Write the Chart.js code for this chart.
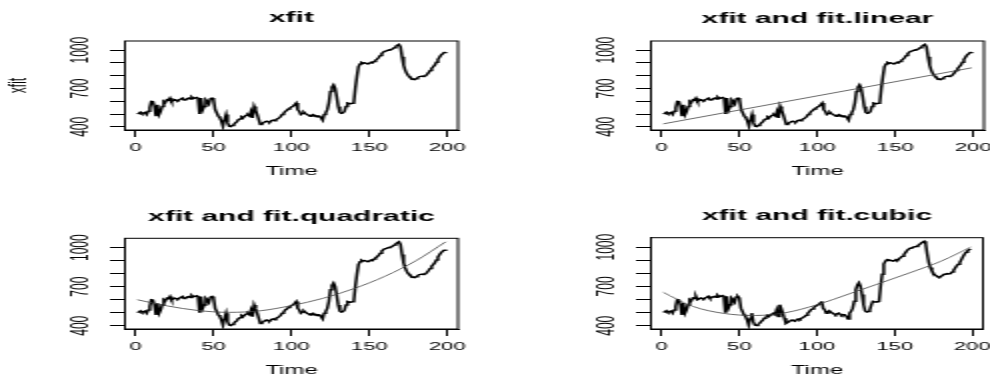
<!DOCTYPE html>
<html>
<head>
<meta charset="utf-8">
<script src="https://cdn.jsdelivr.net/npm/chart.js@4.4.1/dist/chart.umd.min.js"></script>
<style>
  html, body { margin: 0; padding: 0; background: #fff; overflow: hidden; }
  /* the source plot is a ~495px R figure stretched 2x horizontally */
  #page { position: absolute; left: 0; top: 0; width: 495px; height: 376px; transform: scaleX(2); transform-origin: 0 0; }
  #page canvas { position: absolute; }
</style>
</head>
<body>
<div id="page">
  <canvas id="p1" width="250" height="188" style="left:0px;top:0px"></canvas>
  <canvas id="p2" width="250" height="188" style="left:262.5px;top:0px"></canvas>
  <canvas id="p3" width="250" height="196" style="left:0px;top:188px"></canvas>
  <canvas id="p4" width="250" height="196" style="left:262.7px;top:188px"></canvas>
</div>
<script>
// series, t = 1..199
const xfit = [
  501, 505, 514, 503, 508, 512, 496, 521, 548, 599,
  597, 560, 483, 573, 496, 521, 560, 599, 590, 612,
  608, 625, 599, 605, 612, 608, 604, 612, 618, 625,
  610, 612, 620, 625, 618, 633, 622, 625, 630, 625,
  500, 625, 534, 560, 612, 600, 580, 620, 625, 612,
  534, 510, 483, 470, 444, 405, 457, 496, 431, 405,
  402, 410, 418, 431, 440, 457, 462, 478, 470, 483,
  490, 496, 486, 521, 470, 560, 530, 496, 457, 418,
  425, 431, 440, 444, 438, 436, 448, 452, 447, 457,
  462, 470, 480, 496, 505, 521, 528, 540, 548, 555,
  562, 573, 586, 534, 521, 496, 505, 514, 503, 496,
  490, 483, 492, 496, 486, 478, 485, 483, 470, 452,
  496, 510, 534, 586, 676, 710, 728, 703, 638, 560,
  514, 505, 508, 521, 560, 586, 583, 581, 584, 586,
  703, 793, 870, 891, 904, 898, 901, 897, 893, 896,
  905, 901, 912, 922, 930, 943, 958, 974, 985, 992,
  995, 1000, 1003, 1005, 1012, 1020, 1030, 1038, 1045, 1025,
  948, 883, 844, 819, 800, 788, 780, 772, 770, 777,
  785, 793, 795, 798, 796, 798, 810, 824, 840, 857,
  870, 883, 905, 927, 945, 961, 972, 981, 986
];
const time = xfit.map((_, i) => i + 1);

// fitted trends
const linearTime = [1, 199];
const fitLinear = [423, 862];
const curveTime = [1, 20, 40, 60, 80, 100, 120, 140, 160, 180, 199];
const fitQuadratic = [600, 553, 517, 503, 515, 555, 610, 685, 780, 900, 1045];
const fitCubic = [655, 548, 494, 478, 500, 560, 640, 722, 805, 893, 1000];

const xTicks = [0, 50, 100, 150, 200];
const yTicks = [400, 500, 600, 700, 800, 900, 1000];
const yLabels = [400, 700, 1000];

const FONT = "'Liberation Sans', Arial, Helvetica, sans-serif";
const Y_WIDTH = 60, X_HEIGHT = 49.2, TITLE_LH = 18;

const panels = [
  { id: 'p1', title: 'xfit', ylab: 'xfit', fitX: null, fitY: null,
    w: 250, h: 188, box: { l: 62.5, t: 41, r: 229, b: 130 }, titleY: 18 },
  { id: 'p2', title: 'xfit and fit.linear', ylab: '', fitX: linearTime, fitY: fitLinear,
    w: 250, h: 188, box: { l: 62.5, t: 41, r: 229, b: 130 }, titleY: 19 },
  { id: 'p3', title: 'xfit and fit.quadratic', ylab: '', fitX: curveTime, fitY: fitQuadratic,
    w: 250, h: 196, box: { l: 62.5, t: 50.3, r: 229, b: 141 }, titleY: 28.5 },
  { id: 'p4', title: 'xfit and fit.cubic', ylab: '', fitX: curveTime, fitY: fitCubic,
    w: 250, h: 196, box: { l: 62.5, t: 49.7, r: 228.5, b: 141 }, titleY: 27.7 }
];

// R-style full frame round the plot region
const boxPlugin = {
  id: 'box',
  afterDraw(chart) {
    const { ctx, chartArea: a } = chart;
    ctx.save();
    ctx.strokeStyle = '#000';
    ctx.lineWidth = 1;
    ctx.strokeRect(a.left, a.top, a.right - a.left, a.bottom - a.top);
    ctx.restore();
  }
};

// y tick labels turned 90deg like R's default las=0
const yLabelPlugin = {
  id: 'yLabels',
  afterDraw(chart) {
    const { ctx, chartArea: a } = chart;
    const s = chart.scales.y;
    ctx.save();
    ctx.fillStyle = '#000';
    ctx.font = '12px ' + FONT;
    ctx.textAlign = 'center';
    ctx.textBaseline = 'middle';
    yLabels.forEach(v => {
      ctx.save();
      ctx.translate(a.left - 21.5, s.getPixelForValue(v));
      ctx.rotate(-Math.PI / 2);
      ctx.fillText(String(v), 0, 0);
      ctx.restore();
    });
    ctx.restore();
  }
};

Chart.defaults.font.family = FONT;
Chart.defaults.color = '#000';

panels.forEach(p => {
  const datasets = [{
    data: xfit.map((v, i) => ({ x: time[i], y: v })),
    borderColor: '#000',
    borderWidth: 1.5,
    pointRadius: 0,
    tension: 0,
    order: 2
  }];
  if (p.fitX) {
    datasets.push({
      data: p.fitY.map((v, i) => ({ x: p.fitX[i], y: v })),
      borderColor: '#444',
      borderWidth: 0.8,
      pointRadius: 0,
      tension: 0.4,
      cubicInterpolationMode: 'monotone',
      order: 1
    });
  }

  new Chart(document.getElementById(p.id), {
    type: 'line',
    data: { datasets },
    options: {
      responsive: false,
      animation: false,
      devicePixelRatio: 1,
      layout: {
        padding: {
          left: p.box.l - Y_WIDTH,
          right: p.w - p.box.r,
          top: p.titleY - TITLE_LH / 2,
          bottom: p.h - p.box.b - X_HEIGHT
        }
      },
      scales: {
        x: {
          type: 'linear', min: -6.9, max: 206.9,
          afterBuildTicks: s => { s.ticks = xTicks.map(v => ({ value: v })); },
          afterFit: s => { s.height = X_HEIGHT; },
          ticks: { autoSkip: false, maxRotation: 0, padding: 4.4, font: { size: 11 } },
          grid: { drawOnChartArea: false, tickLength: 7, color: '#000' },
          border: { color: '#000' },
          title: { display: true, text: 'Time', font: { size: 12 }, padding: 0 }
        },
        y: {
          type: 'linear', min: 375, max: 1072,
          afterBuildTicks: s => { s.ticks = yTicks.map(v => ({ value: v })); },
          afterFit: s => { s.width = Y_WIDTH; },
          ticks: { autoSkip: false, callback: () => '' },
          grid: { drawOnChartArea: false, tickLength: 7.5, color: '#000' },
          border: { color: '#000' },
          title: { display: !!p.ylab, text: p.ylab, font: { size: 12 }, padding: 0 }
        }
      },
      plugins: {
        legend: { display: false },
        tooltip: { enabled: false },
        title: {
          display: true, text: p.title, fullSize: false,
          font: { size: 15, weight: 'bold' },
          padding: { top: 0, bottom: p.box.t - p.titleY - TITLE_LH / 2 }
        }
      }
    },
    plugins: [boxPlugin, yLabelPlugin]
  });
});
</script>
</body>
</html>
